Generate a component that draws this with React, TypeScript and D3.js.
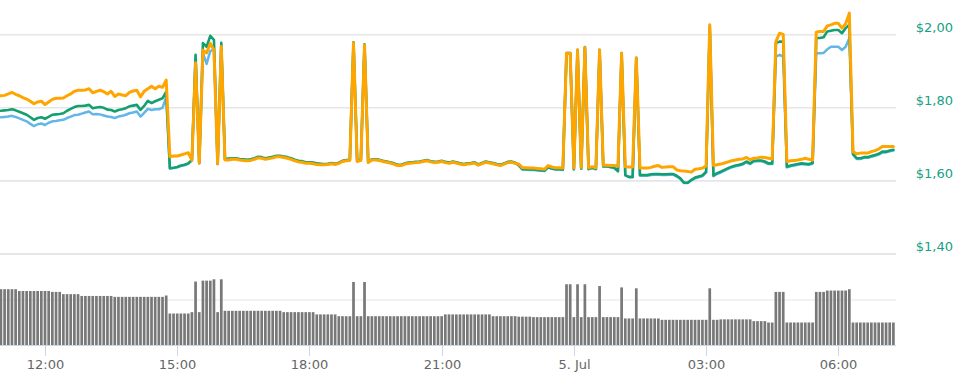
import React from "react";
import * as d3 from "d3";

// 5-minute points starting 4 Jul 11:00
const START_TIME = new Date(2023, 6, 4, 11, 0);

const ORANGE: number[] = [
  1.833, 1.834, 1.838, 1.842, 1.837, 1.833, 1.828, 1.824, 1.818, 1.811,
  1.816, 1.818, 1.809, 1.816, 1.823, 1.826, 1.826, 1.827, 1.833, 1.838,
  1.845, 1.848, 1.848, 1.849, 1.852, 1.841, 1.845, 1.848, 1.844, 1.838,
  1.845, 1.831, 1.838, 1.835, 1.833, 1.842, 1.846, 1.848, 1.830, 1.845,
  1.852, 1.859, 1.852, 1.859, 1.856, 1.876,
  1.666, 1.668, 1.668, 1.671, 1.674, 1.677, 1.657, 1.923, 1.649, 1.958, 1.950, 1.976, 1.958, 1.647, 1.968,
  1.657, 1.657, 1.659, 1.659, 1.657, 1.656, 1.655, 1.656, 1.659, 1.663, 1.662, 1.659, 1.661, 1.663,
  1.666, 1.666, 1.664, 1.662, 1.659, 1.655, 1.652, 1.651, 1.648, 1.648, 1.647, 1.645, 1.644,
  1.644, 1.645, 1.647, 1.645, 1.648, 1.653, 1.655, 1.656, 1.977, 1.653, 1.656, 1.972, 1.650,
  1.657, 1.657, 1.656, 1.653, 1.651, 1.649, 1.646, 1.642, 1.642, 1.646, 1.648, 1.649, 1.650,
  1.651, 1.653, 1.655, 1.652, 1.650, 1.651, 1.653, 1.650, 1.648, 1.651, 1.649, 1.646, 1.644,
  1.646, 1.647, 1.649, 1.643, 1.647, 1.651, 1.649, 1.647, 1.644, 1.642, 1.646, 1.650, 1.651, 1.648,
  1.646, 1.636, 1.636, 1.635, 1.635, 1.634, 1.633, 1.632, 1.642, 1.638, 1.636, 1.636, 1.635,
  1.949, 1.949, 1.635, 1.958, 1.637, 1.965, 1.636, 1.639, 1.636, 1.958, 1.643, 1.643, 1.642,
  1.642, 1.640, 1.949, 1.639, 1.638, 1.638, 1.936,
  1.635, 1.635, 1.635, 1.637, 1.640, 1.642, 1.637, 1.638, 1.639, 1.639, 1.630, 1.628, 1.627,
  1.626, 1.624, 1.632, 1.633, 1.635, 1.641, 2.027,
  1.642, 1.644, 1.646, 1.649, 1.652, 1.655, 1.657, 1.659, 1.660, 1.664, 1.658, 1.662, 1.663,
  1.665, 1.664, 1.662, 1.660, 1.981, 2.004, 2.001,
  1.653, 1.655, 1.656, 1.657, 1.659, 1.662, 1.659, 1.657,
  2.007, 2.009, 2.009, 2.024, 2.027, 2.031, 2.031, 2.018, 2.030, 2.059,
  1.680, 1.674, 1.676, 1.676, 1.676, 1.680, 1.683, 1.687, 1.694, 1.694, 1.694, 1.694,
];

const GREEN: number[] = [
  1.792, 1.793, 1.794, 1.796, 1.793, 1.789, 1.785, 1.781, 1.774, 1.767,
  1.772, 1.774, 1.770, 1.775, 1.781, 1.782, 1.783, 1.785, 1.792, 1.797,
  1.802, 1.805, 1.805, 1.806, 1.808, 1.799, 1.801, 1.802, 1.800, 1.795,
  1.794, 1.790, 1.794, 1.796, 1.799, 1.804, 1.806, 1.808, 1.794, 1.805,
  1.819, 1.813, 1.818, 1.822, 1.826, 1.844,
  1.635, 1.636, 1.638, 1.642, 1.644, 1.648, 1.657, 1.945, 1.649, 1.977, 1.967, 1.997, 1.986, 1.647, 1.978,
  1.660, 1.661, 1.662, 1.662, 1.660, 1.659, 1.658, 1.659, 1.662, 1.666, 1.665, 1.662, 1.664, 1.666,
  1.669, 1.669, 1.667, 1.665, 1.662, 1.658, 1.655, 1.654, 1.651, 1.651, 1.650, 1.648, 1.647,
  1.646, 1.647, 1.649, 1.647, 1.650, 1.655, 1.657, 1.658, 1.979, 1.655, 1.658, 1.974, 1.652,
  1.659, 1.659, 1.658, 1.655, 1.653, 1.651, 1.648, 1.644, 1.644, 1.648, 1.650, 1.651, 1.652,
  1.653, 1.655, 1.657, 1.654, 1.652, 1.653, 1.655, 1.652, 1.650, 1.653, 1.651, 1.648, 1.646,
  1.648, 1.649, 1.651, 1.645, 1.649, 1.653, 1.651, 1.649, 1.646, 1.644, 1.648, 1.652, 1.653, 1.650,
  1.643, 1.632, 1.632, 1.631, 1.631, 1.630, 1.629, 1.628, 1.638, 1.634, 1.632, 1.632, 1.631,
  1.950, 1.950, 1.632, 1.959, 1.634, 1.966, 1.633, 1.636, 1.633, 1.959, 1.640, 1.640, 1.638,
  1.636, 1.627, 1.950, 1.616, 1.611, 1.611, 1.937,
  1.616, 1.616, 1.616, 1.618, 1.619, 1.619, 1.618, 1.618, 1.619, 1.619, 1.614, 1.607, 1.595,
  1.595, 1.603, 1.609, 1.612, 1.615, 1.625, 2.021,
  1.615, 1.621, 1.625, 1.630, 1.635, 1.639, 1.642, 1.644, 1.647, 1.653, 1.648, 1.655, 1.656,
  1.656, 1.653, 1.648, 1.648, 1.977, 1.981, 1.981,
  1.639, 1.642, 1.644, 1.646, 1.648, 1.647, 1.646, 1.649,
  1.991, 1.991, 1.993, 2.009, 2.011, 2.013, 2.013, 2.004, 2.018, 2.027,
  1.674, 1.662, 1.662, 1.665, 1.665, 1.668, 1.671, 1.674, 1.680, 1.680, 1.683, 1.685,
];

const BLUE: number[] = [
  1.774, 1.775, 1.776, 1.778, 1.775, 1.771, 1.767, 1.763, 1.756, 1.750,
  1.755, 1.757, 1.753, 1.759, 1.763, 1.764, 1.766, 1.767, 1.772, 1.776,
  1.780, 1.781, 1.784, 1.787, 1.790, 1.782, 1.783, 1.782, 1.779, 1.776,
  1.775, 1.772, 1.776, 1.778, 1.781, 1.785, 1.787, 1.790, 1.776, 1.786,
  1.797, 1.794, 1.796, 1.796, 1.800, 1.830,
  1.634, 1.635, 1.637, 1.641, 1.643, 1.647, 1.656, 1.935, 1.648, 1.950, 1.920, 1.955, 1.960, 1.646, 1.968,
  1.658, 1.659, 1.660, 1.661, 1.659, 1.658, 1.657, 1.658, 1.660, 1.664, 1.663, 1.661, 1.662, 1.664,
  1.667, 1.668, 1.666, 1.663, 1.661, 1.657, 1.654, 1.653, 1.650, 1.650, 1.649, 1.647, 1.646,
  1.645, 1.646, 1.648, 1.646, 1.649, 1.654, 1.656, 1.657, 1.976, 1.654, 1.657, 1.971, 1.651,
  1.658, 1.658, 1.657, 1.654, 1.652, 1.650, 1.647, 1.643, 1.643, 1.647, 1.649, 1.650, 1.651,
  1.652, 1.654, 1.656, 1.653, 1.651, 1.652, 1.654, 1.651, 1.649, 1.652, 1.650, 1.647, 1.645,
  1.647, 1.648, 1.650, 1.644, 1.648, 1.652, 1.650, 1.648, 1.645, 1.643, 1.647, 1.651, 1.652, 1.649,
  1.642, 1.631, 1.631, 1.630, 1.630, 1.629, 1.628, 1.627, 1.637, 1.633, 1.631, 1.631, 1.630,
  1.948, 1.948, 1.631, 1.957, 1.633, 1.963, 1.632, 1.635, 1.632, 1.956, 1.639, 1.639, 1.637,
  1.635, 1.626, 1.946, 1.615, 1.610, 1.610, 1.933,
  1.614, 1.614, 1.614, 1.616, 1.617, 1.617, 1.616, 1.616, 1.617, 1.617, 1.612, 1.605, 1.594,
  1.594, 1.601, 1.607, 1.610, 1.613, 1.623, 2.018,
  1.613, 1.619, 1.623, 1.628, 1.633, 1.637, 1.640, 1.642, 1.645, 1.651, 1.646, 1.653, 1.654,
  1.654, 1.651, 1.646, 1.646, 1.940, 1.945, 1.940,
  1.637, 1.640, 1.642, 1.644, 1.646, 1.645, 1.644, 1.647,
  1.949, 1.949, 1.950, 1.960, 1.967, 1.967, 1.967, 1.958, 1.967, 1.990,
  1.672, 1.660, 1.660, 1.663, 1.663, 1.666, 1.669, 1.672, 1.678, 1.678, 1.681, 1.683,
];

const VOLUME: number[] = [
  124, 124, 124, 124, 124, 120, 120, 120, 120, 120, 120, 120, 120, 120,
  118, 118, 118, 113, 113, 113, 113, 113, 109, 109, 109, 109, 109, 109, 109, 109, 109,
  107, 107, 107, 107, 107, 107, 107, 107, 107, 107, 107, 107, 107, 107, 110,
  70, 70, 70, 70, 70, 70, 73, 141, 73, 143, 143, 143, 146, 73, 146,
  76, 76, 76, 76, 76, 76, 76, 76, 76, 76, 76, 76, 76, 76, 76, 76,
  73, 73, 73, 73, 73, 73, 73, 73, 73, 68, 68, 68, 68, 68, 68, 64, 64, 64, 64,
  140, 64, 64, 140,
  64, 64, 64, 64, 64, 64, 64, 64, 64, 64, 64, 64, 64, 64, 64, 64, 64, 64, 64, 64, 64,
  68, 68, 68, 68, 68, 68, 68, 68, 68, 68, 68, 68, 68,
  64, 64, 64, 64, 64, 64, 64, 63, 63, 63, 63,
  62, 62, 62, 62, 62, 62, 62, 62, 62, 135, 135, 62, 135, 62, 135, 62, 62, 62, 131,
  62, 62, 62, 62, 62, 128, 59, 59, 59, 126, 59, 59, 59, 59, 59, 59,
  56, 56, 56, 56, 56, 56, 56, 56, 56, 56, 56, 56, 56, 126, 56, 56,
  57, 57, 57, 57, 57, 57, 57, 57, 57, 53, 53, 53, 53, 50, 50, 118, 118, 118,
  50, 50, 50, 50, 50, 50, 50, 50, 118, 118, 118, 121, 121, 121, 121, 121, 121, 124,
  50, 50, 50, 50, 50, 50, 50, 50, 50, 50, 50, 50,
];

const X_TICK_HOURS = [12, 15, 18, 21, 24, 27, 30];
const X_TICK_LABELS = ["12:00", "15:00", "18:00", "21:00", "5. Jul", "03:00", "06:00"];
const Y_TICKS = [1.4, 1.6, 1.8, 2.0];
const Y_TICK_LABELS = ["$1,40", "$1,60", "$1,80", "$2,00"];

const W = 958;
const H = 384;
const PLOT_RIGHT = 896;

export default function App() {
  const times = VOLUME.map((_, i) => d3.timeMinute.offset(START_TIME, i * 5));
  const hourDate = (h: number) => d3.timeHour.offset(new Date(2023, 6, 4, 0, 0), h);

  const x = d3.scaleTime().domain([hourDate(12), hourDate(30)]).range([45, 838.3]);
  const y = d3.scaleLinear().domain([1.4, 2.0]).range([254, 34.7]);
  const yv = d3.scaleLinear().domain([0, 200]).range([345, 255]);

  const mk = (vals: number[]) =>
    d3
      .line<number>()
      .x((_, i) => x(times[i]))
      .y((v) => y(v))(vals) || "";

  const series = [
    { vals: BLUE, color: "#62b6e8", w: 2.5 },
    { vals: GREEN, color: "#12a070", w: 2.6 },
    { vals: ORANGE, color: "#ffa500", w: 3 },
  ];

  const barW = 2.7;
  const font = "'DejaVu Sans', sans-serif";

  return (
    <svg
      width={W}
      height={H}
      style={{ position: "absolute", left: 0, top: 0, background: "#fff" }}
    >
      {/* price gridlines */}
      {Y_TICKS.map((t) => (
        <line
          key={"g" + t}
          x1={0}
          x2={PLOT_RIGHT}
          y1={y(t)}
          y2={y(t)}
          stroke="#e6e6e6"
          strokeWidth={t === 1.4 ? 2.2 : 1.6}
        />
      ))}
      {/* volume gridline */}
      <line x1={0} x2={PLOT_RIGHT} y1={yv(100)} y2={yv(100)} stroke="#e6e6e6" strokeWidth={1} />

      {/* volume bars */}
      {VOLUME.map((v, i) => (
        <rect
          key={"b" + i}
          x={x(times[i]) - barW / 2}
          y={yv(v)}
          width={barW}
          height={yv(0) - yv(v)}
          fill="#787878"
        />
      ))}

      {/* x axis */}
      <line x1={0} x2={PLOT_RIGHT} y1={345.5} y2={345.5} stroke="#ccd6eb" strokeWidth={1} />
      {X_TICK_HOURS.map((h, k) => {
        const px = Math.round(x(hourDate(h))) + 0.5;
        return (
          <g key={"xt" + h}>
            <line x1={px} x2={px} y1={345} y2={356} stroke="#ccd6eb" strokeWidth={1} />
            <text
              x={px}
              y={369}
              textAnchor="middle"
              fontFamily={font}
              fontSize={13}
              fill="#666666"
            >
              {X_TICK_LABELS[k]}
            </text>
          </g>
        );
      })}

      {/* price lines */}
      {series.map((s, k) => (
        <path
          key={"s" + k}
          d={mk(s.vals)}
          fill="none"
          stroke={s.color}
          strokeWidth={s.w}
          strokeLinejoin="round"
          strokeLinecap="round"
        />
      ))}

      {/* y labels */}
      {Y_TICKS.map((t, k) => (
        <text
          key={"yl" + t}
          x={953}
          y={y(t) - 3}
          textAnchor="end"
          fontFamily={font}
          fontSize={13}
          fill="#16a085"
        >
          {Y_TICK_LABELS[k]}
        </text>
      ))}
    </svg>
  );
}
